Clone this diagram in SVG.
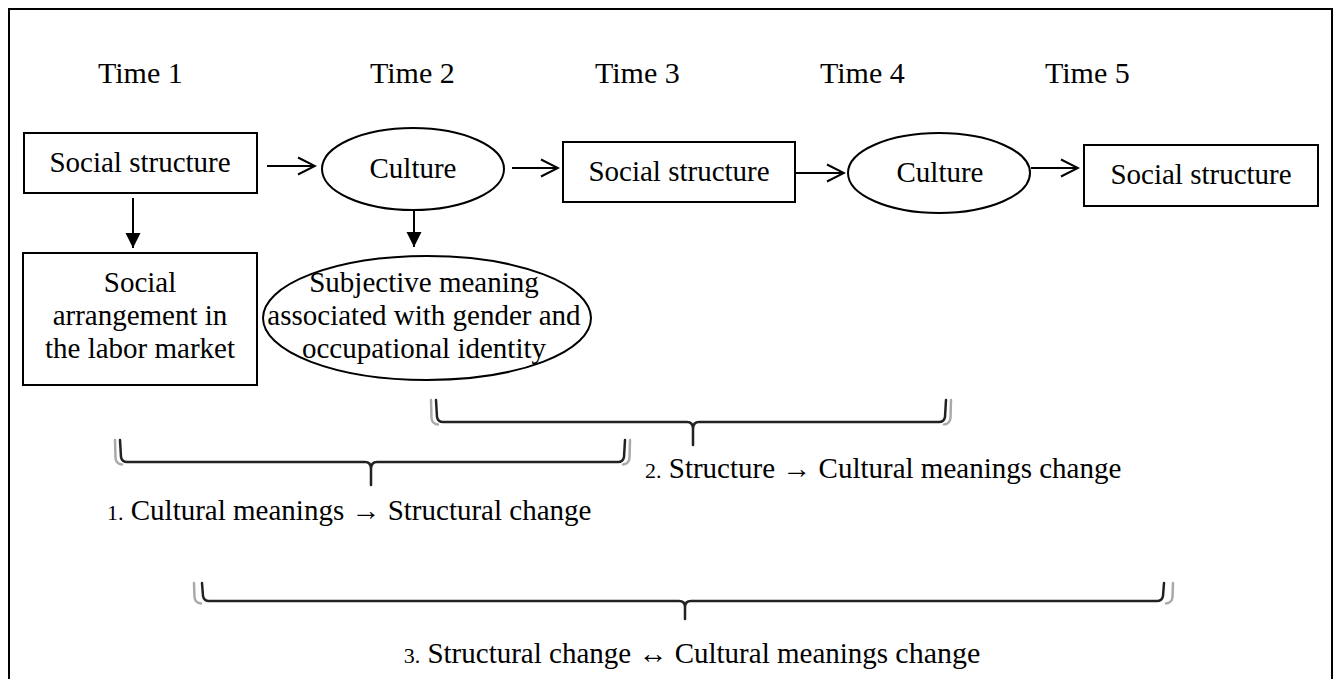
<svg xmlns="http://www.w3.org/2000/svg" width="1338" height="679" viewBox="0 0 1338 679">
<style>
text{font-family:"Liberation Serif","Times New Roman",serif;fill:#000}
.t{font-size:30px}
.n{font-size:29px;text-anchor:middle}
.lab{font-size:29px}
.sm{font-size:22px}
.shape{fill:#fff;stroke:#000;stroke-width:2}
.ln{fill:none;stroke:#000;stroke-width:2}
.br{fill:none;stroke:#222;stroke-width:2.5;stroke-linecap:round;stroke-linejoin:round}
.sh{fill:none;stroke:#aaa;stroke-width:2.5;stroke-linecap:round}
</style>
<defs>
<marker id="open" viewBox="0 0 20 20" refX="18" refY="10" markerWidth="20" markerHeight="20" markerUnits="userSpaceOnUse" orient="auto">
<path d="M1,1.5 L18,10 L1,18.5" fill="none" stroke="#000" stroke-width="2"/>
</marker>
<marker id="fill" viewBox="0 0 16 16" refX="15" refY="8" markerWidth="16" markerHeight="16" markerUnits="userSpaceOnUse" orient="auto">
<path d="M0,0.5 L15,8 L0,15.5 Z" fill="#000"/>
</marker>
</defs>
<rect x="9" y="9" width="1323" height="690" fill="#fff" stroke="#000" stroke-width="2"/>
<g id="time-labels">
<text class="t" x="98" y="83">Time 1</text>
<text class="t" x="370" y="83">Time 2</text>
<text class="t" x="595" y="83">Time 3</text>
<text class="t" x="820" y="83">Time 4</text>
<text class="t" x="1045" y="83">Time 5</text>
</g>
<g id="social-structure-1">
<rect class="shape" x="24" y="133" width="233" height="60"/>
<text class="n" x="140" y="172">Social structure</text>
</g>
<g id="culture-1">
<ellipse class="shape" cx="413" cy="169" rx="91" ry="41"/>
<text class="n" x="413" y="178">Culture</text>
</g>
<g id="social-structure-3">
<rect class="shape" x="563" y="142" width="232" height="60"/>
<text class="n" x="679" y="181">Social structure</text>
</g>
<g id="culture-4">
<ellipse class="shape" cx="939" cy="173" rx="91" ry="40"/>
<text class="n" x="940" y="182">Culture</text>
</g>
<g id="social-structure-5">
<rect class="shape" x="1084" y="145" width="234" height="61"/>
<text class="n" x="1201" y="184">Social structure</text>
</g>
<g id="social-arrangement">
<rect class="shape" x="23" y="253" width="234" height="132"/>
<text class="n" x="140" y="292">Social</text>
<text class="n" x="140" y="325">arrangement in</text>
<text class="n" x="140" y="358">the labor market</text>
</g>
<g id="subjective-meaning">
<ellipse class="shape" cx="427" cy="318" rx="164" ry="62"/>
<text class="n" x="424" y="292">Subjective meaning</text>
<text class="n" x="424" y="325">associated with gender and</text>
<text class="n" x="424" y="358">occupational identity</text>
</g>
<g id="connectors">
<line class="ln" x1="267" y1="166" x2="315" y2="166" marker-end="url(#open)"/>
<line class="ln" x1="512" y1="168" x2="558" y2="168" marker-end="url(#open)"/>
<line class="ln" x1="796" y1="173" x2="844" y2="173" marker-end="url(#open)"/>
<line class="ln" x1="1031" y1="168" x2="1078" y2="168" marker-end="url(#open)"/>
<line class="ln" x1="133" y1="198" x2="133" y2="248" marker-end="url(#fill)"/>
<line class="ln" x1="414" y1="210" x2="414" y2="247" marker-end="url(#fill)"/>
</g>
<g id="bracket-2">
<path class="sh" d="M431,400 L431.5,418 Q432,424 438,424.5"/>
<path class="sh" d="M951,400 L950.5,418 Q950,424 944,424.5"/>
<path class="br" d="M436,400 L437,417 Q438,422 443,422 L687,422 Q693,422 693,429 L693,445 M693,429 Q693,422 699,422 L939,422 Q944,422 945,417 L946,400"/>
<text class="lab" x="645" y="478"><tspan class="sm">2.</tspan> Structure → Cultural meanings change</text>
</g>
<g id="bracket-1">
<path class="sh" d="M115,440 L115.5,458 Q116,464 122,464.5"/>
<path class="sh" d="M630,440 L629.5,458 Q629,464 623,464.5"/>
<path class="br" d="M120,440 L121,457 Q122,462 127,462 L365,462 Q371,462 371,469 L371,485 M371,469 Q371,462 377,462 L618,462 Q623,462 624,457 L625,440"/>
<text class="lab" x="107" y="520"><tspan class="sm">1.</tspan> Cultural meanings → Structural change</text>
</g>
<g id="bracket-3">
<path class="sh" d="M194,583 L194.5,597 Q195,603 201,603.5"/>
<path class="sh" d="M1173,583 L1172.5,597 Q1172,603 1166,603.5"/>
<path class="br" d="M202,583 L203,596 Q204,601 209,601 L679,601 Q685,601 685,607 L685,619 M685,607 Q685,601 691,601 L1157,601 Q1162,601 1163,596 L1164,583"/>
<text class="lab" x="692" y="663" text-anchor="middle"><tspan class="sm">3.</tspan> Structural change ↔ Cultural meanings <tspan font-size="30">change</tspan></text>
</g>
</svg>
